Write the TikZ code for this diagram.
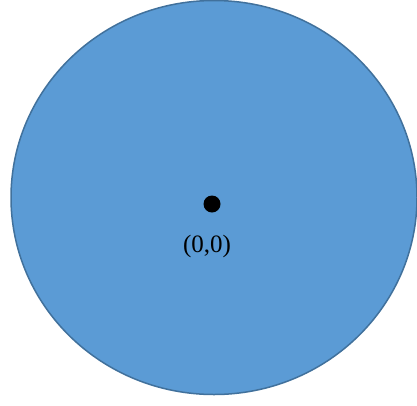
\documentclass[tikz,border=0pt]{standalone}
\usepackage{fontspec}
\setmainfont{Liberation Serif}
\usepackage{xcolor}
\definecolor{diskfill}{HTML}{5B9BD5}
\definecolor{diskedge}{HTML}{41719C}
\begin{document}
\begin{tikzpicture}[x=1pt,y=-1pt]
	% Frame
	\useasboundingbox (0,0) rectangle (417,405);
	
	% Disk
	\draw[diskedge, fill=diskfill, line width=1.5pt] (214,197.5) ellipse (203 and 197);
	
	% Centre point
	\node[circle, fill=black, inner sep=0pt, minimum size=17pt] (origin) at (212,204) {};
	\node[anchor=base, font=\fontsize{25}{30}\selectfont, inner sep=0pt] (originlabel) at (207,252.5) {(0,0)};
\end{tikzpicture}
\end{document}
